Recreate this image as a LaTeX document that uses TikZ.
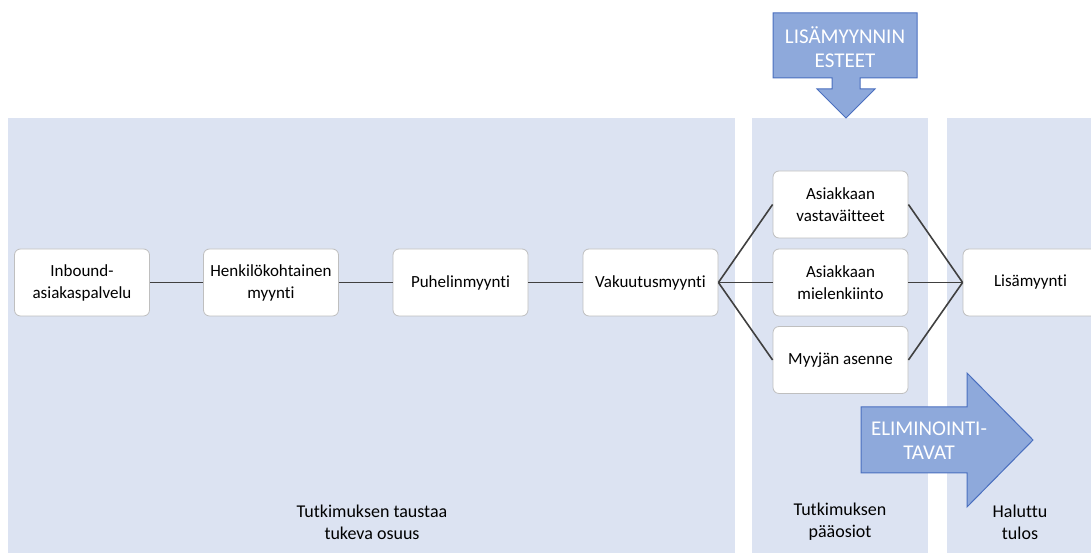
\documentclass[tikz,border=0pt]{standalone}
\usepackage{fontspec}
\setmainfont[Ligatures={NoCommon}]{Carlito}
\usepackage{tikz}

\definecolor{panelblue}{HTML}{DCE3F2}
\definecolor{arrowfill}{HTML}{8EA9DB}
\definecolor{arrowdraw}{HTML}{4A6FBF}
\definecolor{boxdraw}{HTML}{BFBFBF}
\definecolor{linegray}{HTML}{404040}

\tikzset{
	panel/.style={fill=panelblue, draw=none},
	stagebox/.style={rectangle, rounded corners=6pt, draw=boxdraw, fill=white, line width=0.8pt,
		minimum width=135pt, minimum height=67pt, align=center,
		font=\fontsize{17}{22}\selectfont},
	link/.style={draw=linegray, line width=1.6pt},
	blockarrow/.style={fill=arrowfill, draw=arrowdraw, line width=1pt},
	arrowtext/.style={text=white, align=center, font=\fontsize{21}{24}\selectfont},
	paneltext/.style={align=center, font=\fontsize{18}{22}\selectfont}
}

\begin{document}
\begin{tikzpicture}[x=1pt,y=1pt]
		
		\useasboundingbox (0,0) rectangle (1091,553);
		
		% Panels
		
		\fill[panel] (8,0) rectangle (735,435);
		\fill[panel] (752,0) rectangle (928,435);
		\fill[panel] (947,0) rectangle (1091,435);
		
		% Stages
		
		\node[stagebox] 
		(inbound) at (82,270.5) {Inbound-\\asiakaspalvelu};
		
		\node[stagebox] 
		(henkilo) at (271,270.5) {Henkilökohtainen\\myynti};
		
		\node[stagebox] 
		(puhelin) at (460.5,270.5) {Puhelinmyynti};
		
		\node[stagebox] 
		(vakuutus) at (650.5,270.5) {Vakuutusmyynti};
		
		\node[stagebox] 
		(vastavaite) at (840.5,348.5) {Asiakkaan\\vastaväitteet};
		
		\node[stagebox] 
		(mielenkiinto) at (840.5,270.5) {Asiakkaan\\mielenkiinto};
		
		\node[stagebox] 
		(asenne) at (840.5,193) {Myyjän asenne};
		
		\node[stagebox] 
		(lisamyynti) at (1030.5,270.5) {Lisämyynti};
		
		% Connectors
		
		\draw[link] (inbound) -- (henkilo);
		\draw[link] (henkilo) -- (puhelin);
		\draw[link] (puhelin) -- (vakuutus);
		
		\draw[link] (vakuutus.east) -- (vastavaite.west);
		\draw[link] (vakuutus.east) -- (mielenkiinto.west);
		\draw[link] (vakuutus.east) -- (asenne.west);
		
		\draw[link] (vastavaite.east) -- (lisamyynti.west);
		\draw[link] (mielenkiinto.east) -- (lisamyynti.west);
		\draw[link] (asenne.east) -- (lisamyynti.west);
		
		% Block arrows
		
		\draw[blockarrow] (773,540) -- (917,540) -- (917,475) -- (860,475) -- (860,464)
		-- (875,464) -- (846,435) -- (817,464) -- (832,464) -- (832,475) -- (773,475) -- cycle;
		\node[arrowtext] (esteet) at (845,506) {LISÄMYYNNIN\\ESTEET};
		
		\draw[blockarrow] (861,146) -- (967,146) -- (967,180) -- (1033,113)
		-- (967,46) -- (967,80) -- (861,80) -- cycle;
		\node[arrowtext] (tavat) at (929,112) {ELIMINOINTI-\\TAVAT};
		
		% Panel labels
		
		\node[paneltext] (tausta) at (372,31) {Tutkimuksen taustaa\\tukeva osuus};
		\node[paneltext] (paaosiot) at (840,31) {Tutkimuksen\\pääosiot};
		\node[paneltext] (tulos) at (1020,31) {Haluttu\\tulos};
		
	\end{tikzpicture}
\end{document}
